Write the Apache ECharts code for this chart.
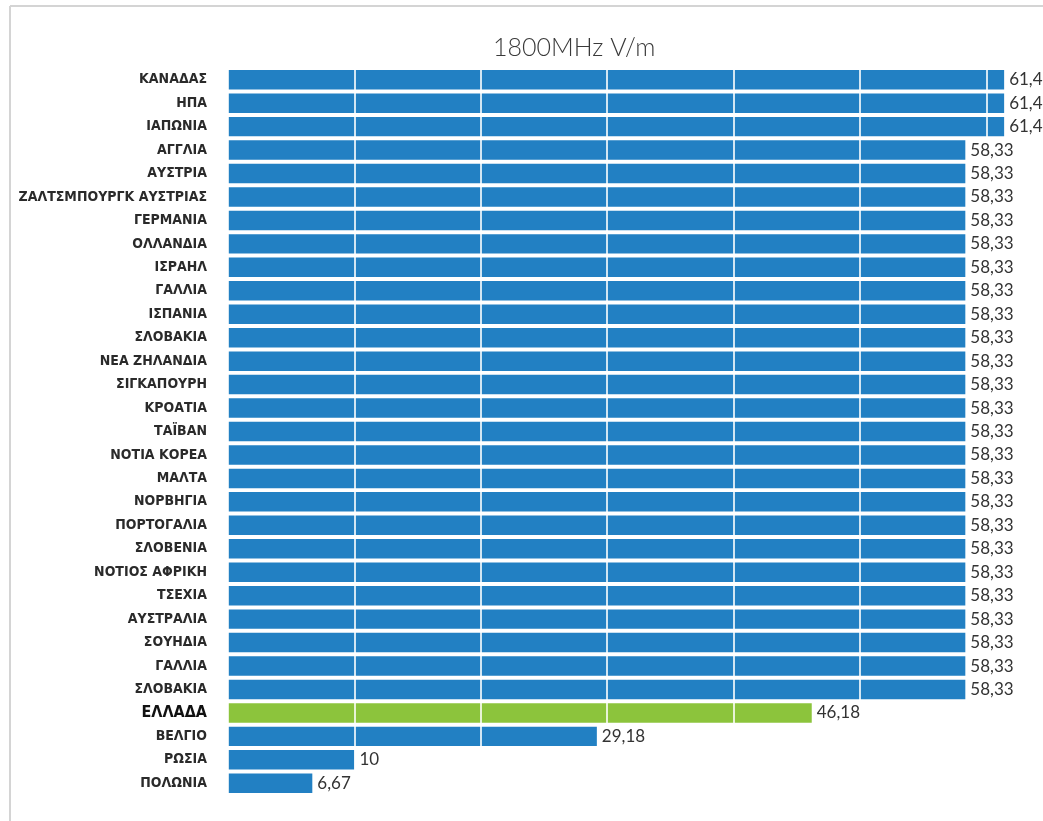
<!DOCTYPE html>
<html>
<head>
<meta charset="utf-8">
<script src="https://cdn.jsdelivr.net/npm/echarts@6/dist/echarts.min.js"></script>
<style>
  html, body { margin: 0; padding: 0; background: #fff; }
  #main { width: 1043px; height: 821px; }
</style>
</head>
<body>
<div id="main"></div>
<script>
// χώρες από πάνω προς τα κάτω
const countries = [
  'ΚΑΝΑΔΑΣ', 'ΗΠΑ', 'ΙΑΠΩΝΙΑ', 'ΑΓΓΛΙΑ', 'ΑΥΣΤΡΙΑ', 'ΖΑΛΤΣΜΠΟΥΡΓΚ ΑΥΣΤΡΙΑΣ',
  'ΓΕΡΜΑΝΙΑ', 'ΟΛΛΑΝΔΙΑ', 'ΙΣΡΑΗΛ', 'ΓΑΛΛΙΑ', 'ΙΣΠΑΝΙΑ', 'ΣΛΟΒΑΚΙΑ',
  'ΝΕΑ ΖΗΛΑΝΔΙΑ', 'ΣΙΓΚΑΠΟΥΡΗ', 'ΚΡΟΑΤΙΑ', 'ΤΑΪΒΑΝ', 'ΝΟΤΙΑ ΚΟΡΕΑ', 'ΜΑΛΤΑ',
  'ΝΟΡΒΗΓΙΑ', 'ΠΟΡΤΟΓΑΛΙΑ', 'ΣΛΟΒΕΝΙΑ', 'ΝΟΤΙΟΣ ΑΦΡΙΚΗ', 'ΤΣΕΧΙΑ', 'ΑΥΣΤΡΑΛΙΑ',
  'ΣΟΥΗΔΙΑ', 'ΓΑΛΛΙΑ', 'ΣΛΟΒΑΚΙΑ', 'ΕΛΛΑΔΑ', 'ΒΕΛΓΙΟ', 'ΡΩΣΙΑ', 'ΠΟΛΩΝΙΑ'
];
// όρια V/m
const limits = [
  61.4, 61.4, 61.4, 58.33, 58.33, 58.33,
  58.33, 58.33, 58.33, 58.33, 58.33, 58.33,
  58.33, 58.33, 58.33, 58.33, 58.33, 58.33,
  58.33, 58.33, 58.33, 58.33, 58.33, 58.33,
  58.33, 58.33, 58.33, 46.18, 29.18, 10, 6.67
];
const highlight = 'ΕΛΛΑΔΑ';
const titleText = '1800MHz V/m';

const BLUE = '#2280c3';
const GREEN = '#8cc43c';
const labelFont = "'Liberation Sans Narrow', 'DejaVu Sans Condensed', sans-serif";

const chart = echarts.init(document.getElementById('main'));

const option = {
  animation: false,
  backgroundColor: '#fff',
  title: {
    text: titleText,
    left: 488,
    top: 30,
    textStyle: {
      fontFamily: 'Lato, sans-serif',
      fontWeight: 300,
      fontSize: 25,
      color: '#3a3a3a'
    }
  },
  graphic: [
    { type: 'line', shape: { x1: 10, y1: 6, x2: 1043, y2: 6 }, style: { stroke: '#d4d4d4', lineWidth: 2 } },
    { type: 'line', shape: { x1: 10, y1: 6, x2: 10, y2: 821 }, style: { stroke: '#d4d4d4', lineWidth: 2 } }
  ],
  grid: {
    left: 228,
    right: 6,
    top: 68,
    bottom: 26,
    containLabel: false
  },
  xAxis: {
    type: 'value',
    min: 0,
    max: 64,
    interval: 10,
    z: 5, // λευκές γραμμές πάνω από τις μπάρες
    axisLine: { show: false },
    axisTick: { show: false },
    axisLabel: { show: false },
    splitLine: {
      show: true,
      lineStyle: { color: 'rgba(255,255,255,0.8)', width: 2 }
    }
  },
  yAxis: {
    type: 'category',
    inverse: true,
    data: countries,
    axisLine: { show: false },
    axisTick: { show: false },
    axisLabel: {
      margin: 21,
      fontFamily: labelFont,
      fontWeight: 'bold',
      fontSize: 14,
      color: '#2a2a2a',
      formatter: v => v === highlight ? '{hl|' + v + '}' : v,
      rich: {
        hl: {
          fontFamily: labelFont,
          fontWeight: 'bold',
          fontSize: 16,
          color: '#111'
        }
      }
    }
  },
  series: [{
    type: 'bar',
    barCategoryGap: '17%',
    z: 2,
    data: limits.map((v, i) => ({
      value: v,
      itemStyle: { color: countries[i] === highlight ? GREEN : BLUE }
    }))
  }, {
    // διαφανής σειρά μόνο για τις ετικέτες, πάνω από τις γραμμές
    type: 'bar',
    barCategoryGap: '17%',
    barGap: '-100%',
    z: 10,
    silent: true,
    data: limits,
    itemStyle: { color: 'transparent' },
    label: {
      show: true,
      position: 'right',
      distance: 5,
      fontFamily: 'Lato, sans-serif',
      fontSize: 17,
      color: '#333',
      formatter: p => String(p.value).replace('.', ',')
    }
  }]
};

chart.setOption(option);
</script>
</body>
</html>
